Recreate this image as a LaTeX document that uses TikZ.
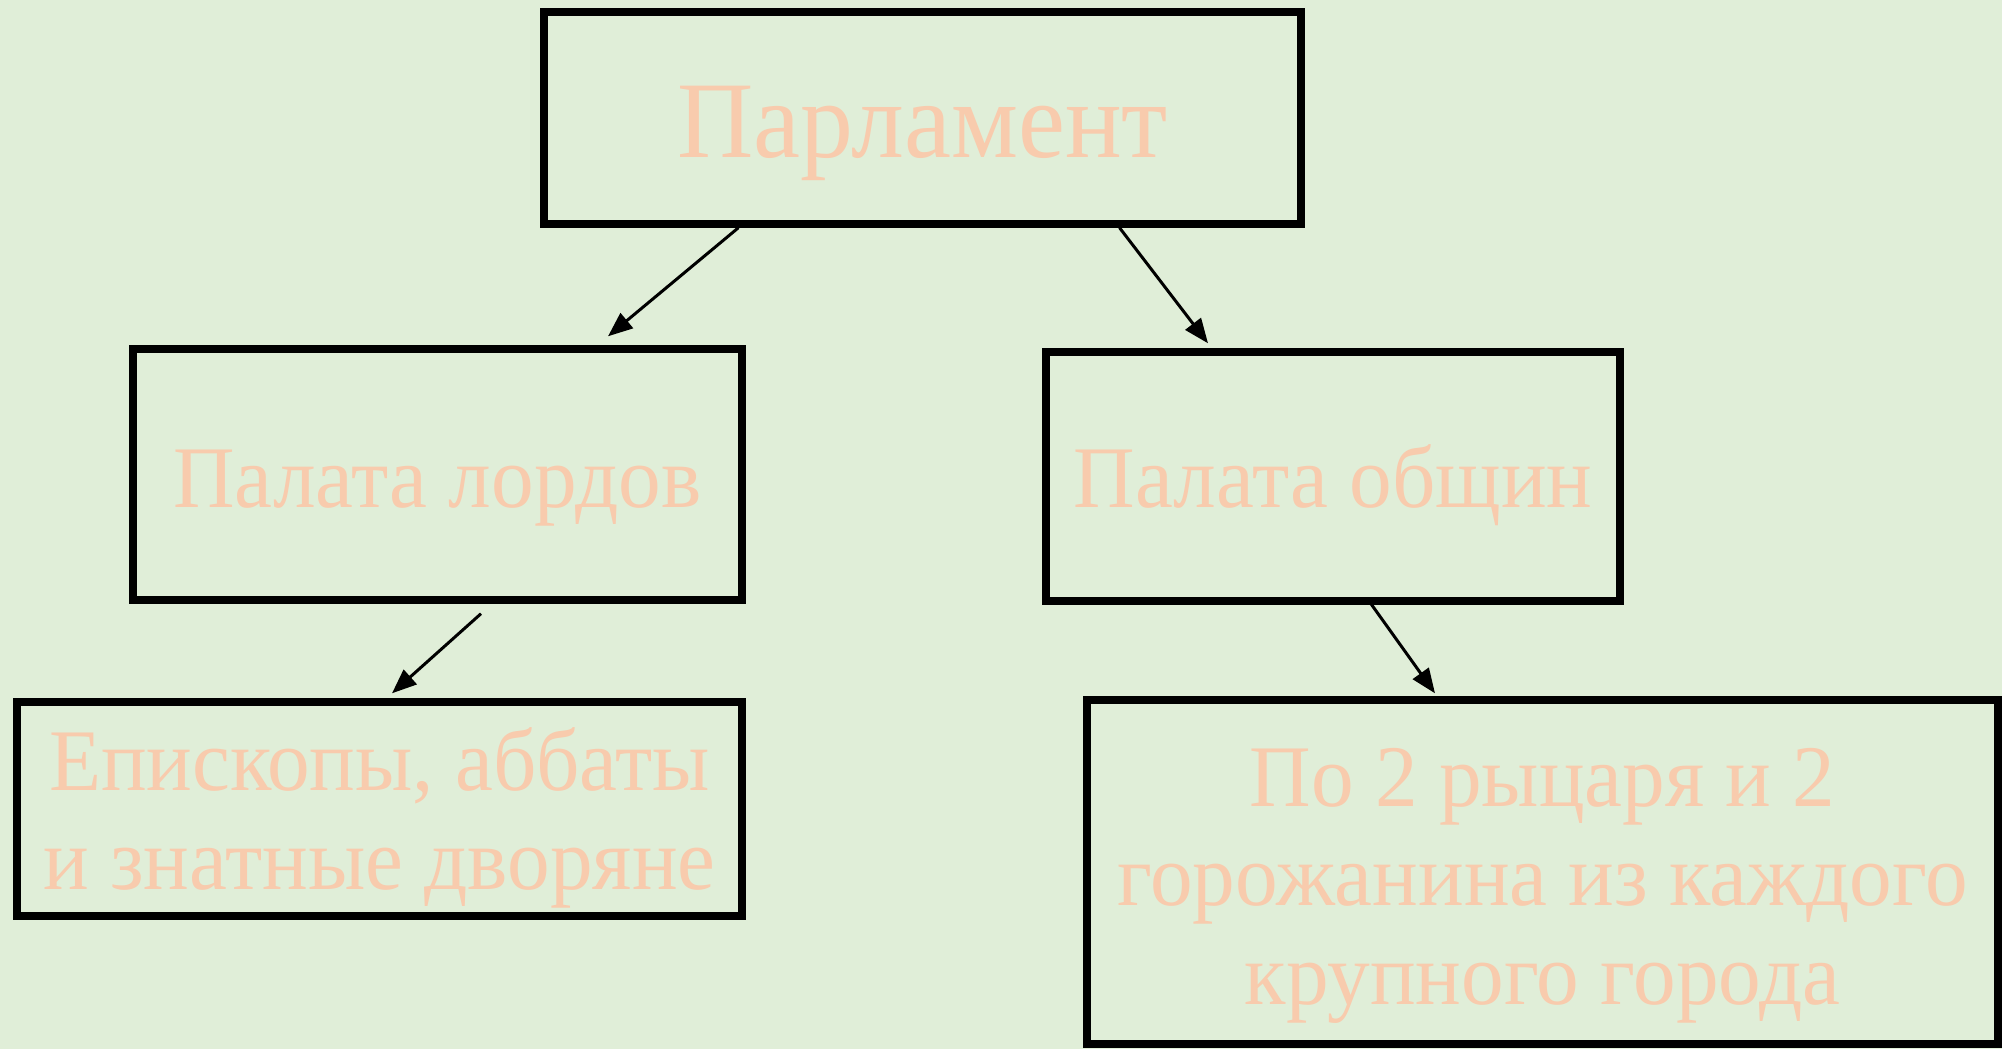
\documentclass[tikz,border=0pt]{standalone}
\usepackage{fontspec}
\setmainfont{Liberation Serif}[FakeStretch=0.97]
\usetikzlibrary{arrows.meta}
\definecolor{bgGreen}{RGB}{224,238,216}
\definecolor{textPeach}{RGB}{248,203,173}
\begin{document}
\begin{tikzpicture}
		\tikzstyle{Box} = [rectangle, draw=black, line width=2.1pt, fill=bgGreen, text=textPeach, align=center, inner sep=0pt]
		\tikzstyle{BigText} = [font=\fontsize{31pt}{36pt}\selectfont]
		\tikzstyle{SmallText} = [font=\fontsize{25pt}{28.2pt}\selectfont]
		\tikzstyle{arrow} = [line width=0.85pt, -{Triangle[length=7pt, width=5.5pt]}]
		
		\fill [bgGreen] (0,0) rectangle (20.02,-10.49);
		\useasboundingbox (0,0) rectangle (20.02,-10.49);
		\node (parl) [Box, BigText, minimum width=7.57cm, minimum height=2.12cm, text height=0.8cm, text depth=0pt] at (9.225,-1.18) {Парламент};
		\node (lords) [Box, SmallText, minimum width=6.09cm, minimum height=2.51cm, text height=0.67cm, text depth=0pt] at (4.375,-4.745) {Палата лордов};
		\node (commons) [Box, SmallText, minimum width=5.74cm, minimum height=2.49cm, text height=0.63cm, text depth=0pt] at (13.33,-4.765) {Палата общин};
		\node (bishops) [Box, SmallText, minimum width=7.25cm, minimum height=2.14cm, text height=1.62cm, text depth=0pt] at (3.795,-8.09) {Епископы, аббаты\\и знатные дворяне};
		\node (knights) [Box, SmallText, minimum width=9.11cm, minimum height=3.44cm, text height=2.66cm, text depth=0pt] at (15.425,-8.72) {По 2 рыцаря и 2\\горожанина из каждого\\крупного города};
		
		\draw [arrow] ([xshift=-1.84cm]parl.south) -- ([xshift=1.705cm, yshift=0.09cm]lords.north);
		\draw [arrow] ([xshift=1.97cm]parl.south) -- ([xshift=-1.25cm, yshift=0.05cm]commons.north);
		\draw [arrow] ([xshift=0.435cm, yshift=-0.1cm]lords.south) -- ([xshift=0.125cm, yshift=0.05cm]bishops.north);
		\draw [arrow] ([xshift=0.35cm, yshift=0.05cm]commons.south) -- ([xshift=-1.075cm, yshift=0.03cm]knights.north);
		\end{tikzpicture}
\end{document}
